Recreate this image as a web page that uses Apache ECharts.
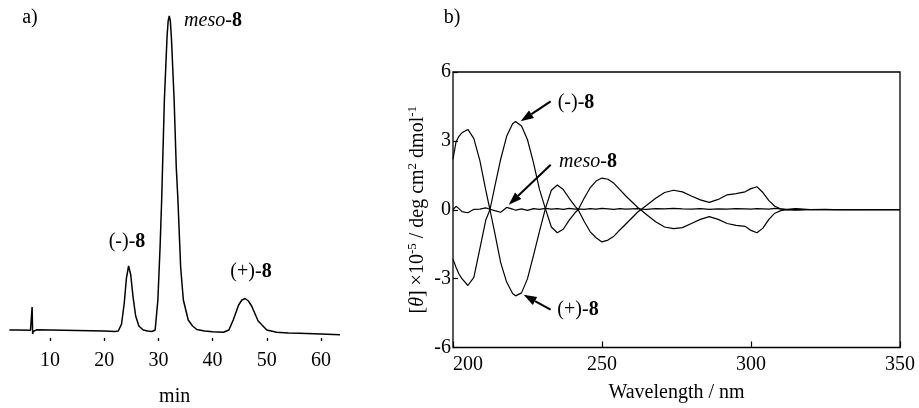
<!DOCTYPE html>
<html><head><meta charset="utf-8">
<script src="https://cdn.jsdelivr.net/npm/echarts@6/dist/echarts.min.js"></script>
<style>html,body{margin:0;padding:0;background:#fff}#c{width:919px;height:408px}</style>
</head><body><div id="c"></div>
<script>
// ---- Panel a) HPLC chromatogram ----
const hplcTime = [2.5,4,6.4,6.6,6.7,6.8,6.9,7.1,7.5,10,15,20,22,22.6,23.2,23.7,24.1,24.5,24.9,25.3,25.8,26.4,27.2,28.0,28.8,29.4,29.9,30.3,30.6,31.1,31.6,31.8,32.0,32.2,32.4,32.9,33.3,33.6,34.1,34.6,35.5,36.3,37.1,38.5,40,42,43,43.8,44.8,45.4,46.0,46.6,47.2,48.4,50,51.8,54,56,60,63.5];
const hplcSignal = [8,8,7.8,8,31,4,6.5,8,8.2,8,7.6,7,6.5,7,14,35,60,72,63,42,22,12,8,7,6.5,8,38,90,138,238,302,317,322,317,300,238,170,138,71,38,18,12,8.5,7,6.3,5.8,8,18,33,38,39.5,37,32,17,8,5.8,5,4.7,4,3.3];
const hplcTicks = [10,20,30,40,50,60];

// ---- Panel b) CD spectra ----
const cdWavelength = [200,201,202,203,205,207,209,211,212.4,214,216,218,220,221,223,225,227,229,231,233,235,237,239,241,242,244,246,248,250,252,254,256,258,260,262,263,265,268,271,274,277,280,283,286,289,292,295,298,300,302,304,306,308,310,312,315,320,325,330,335,340,345,350];
const cdPlus  = [2.2,2.95,3.2,3.35,3.5,3.1,2.15,0.85,0,-1.0,-2.3,-3.15,-3.65,-3.75,-3.62,-3.0,-2.0,-0.95,0.05,0.85,1.08,0.88,0.5,0.15,0,-0.5,-0.95,-1.22,-1.4,-1.32,-1.15,-0.88,-0.62,-0.36,-0.1,0,0.2,0.5,0.75,0.85,0.78,0.6,0.43,0.32,0.45,0.65,0.7,0.78,0.92,1.0,0.75,0.4,0.15,0.03,0,0.02,0,0.01,0,0,0,0,0];
const cdMinus = [-2.15,-2.5,-2.8,-3.0,-3.3,-2.95,-1.7,-0.45,0,1.0,2.2,3.2,3.75,3.84,3.65,3.05,2.05,0.9,0.05,-0.75,-1.0,-0.85,-0.45,-0.12,0,0.5,0.95,1.25,1.38,1.33,1.15,0.88,0.6,0.35,0.1,0,-0.22,-0.52,-0.75,-0.82,-0.78,-0.6,-0.42,-0.3,-0.42,-0.6,-0.68,-0.72,-0.9,-1.0,-0.8,-0.42,-0.15,-0.04,0,-0.02,0.01,0,0,0,0,0,0];
const cdMeso  = [0,0.15,0.05,-0.08,-0.13,0.02,0.03,0.08,0.02,-0.04,-0.11,0.1,0.03,-0.02,0.04,-0.03,0.05,0.02,0.06,0.03,0.05,0.02,0.06,0.03,0.04,0.02,0.05,0.03,0.06,0.04,0.02,0.05,0.03,0.04,0.05,0.03,0.02,0.05,0.04,0.06,0.04,0.03,0.05,0.02,0.04,0.03,0.05,0.04,0.03,0.05,0.04,0.03,0.06,0.04,0.02,0.05,0.01,0.02,0,0.01,0,0,0];
const cdTicksY = 3;

const FONT = '"Liberation Serif", "Times New Roman", serif';
const zip = (xs, ys) => xs.map((x, i) => [x, ys[i]]);
const txt = {color:'#000', fontFamily:FONT, fontSize:20};

const lineSeries = (data, xi, w) => ({
  type:'line', xAxisIndex:xi, yAxisIndex:xi, data, showSymbol:false, symbol:'none',
  lineStyle:{color:'#000', width:w}, animation:false, silent:true, z:3
});

const option = {
  animation:false,
  backgroundColor:'#fff',
  grid:[
    {left:9.35, top:8, width:330.65, height:330, outerBoundsMode:'none', containLabel:false},
    {left:453, top:72, width:447, height:275.5, show:true, borderColor:'#000', borderWidth:1.3, backgroundColor:'transparent', outerBoundsMode:'none', containLabel:false}
  ],
  xAxis:[
    {gridIndex:0, type:'value', min:2.5, max:63.5,
     axisLine:{show:false, onZero:false}, splitLine:{show:false},
     axisTick:{show:true, customValues:hplcTicks, length:3, lineStyle:{color:'#000', width:1.3}},
     axisLabel:Object.assign({customValues:hplcTicks, margin:13}, txt),
     name:'min', nameLocation:'middle', nameGap:49, nameTextStyle:txt},
    {gridIndex:1, type:'value', min:200, max:350, interval:50,
     axisLine:{show:false, onZero:false}, splitLine:{show:false},
     axisTick:{show:true, inside:true, length:6, lineStyle:{color:'#000', width:1.2}},
     axisLabel:Object.assign({margin:7, alignMinLabel:'left', showMinLabel:true, showMaxLabel:true}, txt),
     name:'Wavelength / nm', nameLocation:'middle', nameGap:35, nameTextStyle:txt}
  ],
  yAxis:[
    {gridIndex:0, type:'value', min:0, max:330, show:false},
    {gridIndex:1, type:'value', min:-6, max:6, interval:cdTicksY,
     axisLine:{show:false, onZero:false}, splitLine:{show:false},
     axisTick:{show:true, inside:true, length:5, lineStyle:{color:'#000', width:1.2}},
     axisLabel:Object.assign({margin:2}, txt),
     name:'[{i|θ}] ×10{s|-5} / deg cm{s|2} dmol{s|-1}', nameLocation:'middle', nameRotate:90, nameGap:23,
     nameTextStyle:Object.assign({lineHeight:24, rich:{
       i:{fontStyle:'italic', fontFamily:FONT, fontSize:20, color:'#000', lineHeight:24},
       s:{fontFamily:FONT, fontSize:13, color:'#000', verticalAlign:'top', lineHeight:24}
     }}, txt)}
  ],
  series:[
    lineSeries(zip(hplcTime, hplcSignal), 0, 1.5),
    lineSeries(zip(cdWavelength, cdPlus), 1, 1.2),
    lineSeries(zip(cdWavelength, cdMinus), 1, 1.2),
    lineSeries(zip(cdWavelength, cdMeso), 1, 1.2)
  ]
};

const chart = echarts.init(document.getElementById('c'), null, {renderer:'canvas'});
chart.setOption(option);

function label(x, y, text) {
  const rich = {
    n:{fontFamily:FONT, fontSize:20, color:'#000'},
    i:{fontFamily:FONT, fontSize:20, color:'#000', fontStyle:'italic'},
    b:{fontFamily:FONT, fontSize:20, color:'#000', fontWeight:'bold'}
  };
  return {type:'text', x, y, z:10, style:{text, rich, fontFamily:FONT, fontSize:20, fill:'#000', align:'center', verticalAlign:'middle'}};
}
function arrow(tip, dx, dy) {
  const [tx, ty] = tip;
  const len = Math.hypot(dx, dy), ux = dx/len, uy = dy/len;
  const hl = 13, hw = 4.5;
  const bx = tx + ux*hl, by = ty + uy*hl;
  return [
    {type:'line', z:10, shape:{x1:tx+dx, y1:ty+dy, x2:bx, y2:by}, style:{stroke:'#000', lineWidth:2}},
    {type:'polygon', z:10, shape:{points:[[tx,ty],[bx-uy*hw, by+ux*hw],[bx+uy*hw, by-ux*hw]]}, style:{fill:'#000'}}
  ];
}
const tipMinus = chart.convertToPixel({gridIndex:1}, [222.7, 3.85]);
const tipMeso  = chart.convertToPixel({gridIndex:1}, [218.7, 0.22]);
const tipPlus  = chart.convertToPixel({gridIndex:1}, [223.7, -3.7]);

chart.setOption({graphic:[
  label(30, 18, '{n|a)}'),
  label(452, 18, '{n|b)}'),
  label(213, 21, '{i|meso}{n|-}{b|8}'),
  label(127, 242, '{n|(-)-}{b|8}'),
  label(251, 272, '{n|(+)-}{b|8}'),
  label(576, 103, '{n|(-)-}{b|8}'),
  label(588, 162, '{i|meso}{n|-}{b|8}'),
  label(578, 310, '{n|(+)-}{b|8}'),
  ...arrow(tipMinus, 30, -20),
  ...arrow(tipMeso, 42, -40),
  ...arrow(tipPlus, 27, 15)
]});
</script>
</body></html>
